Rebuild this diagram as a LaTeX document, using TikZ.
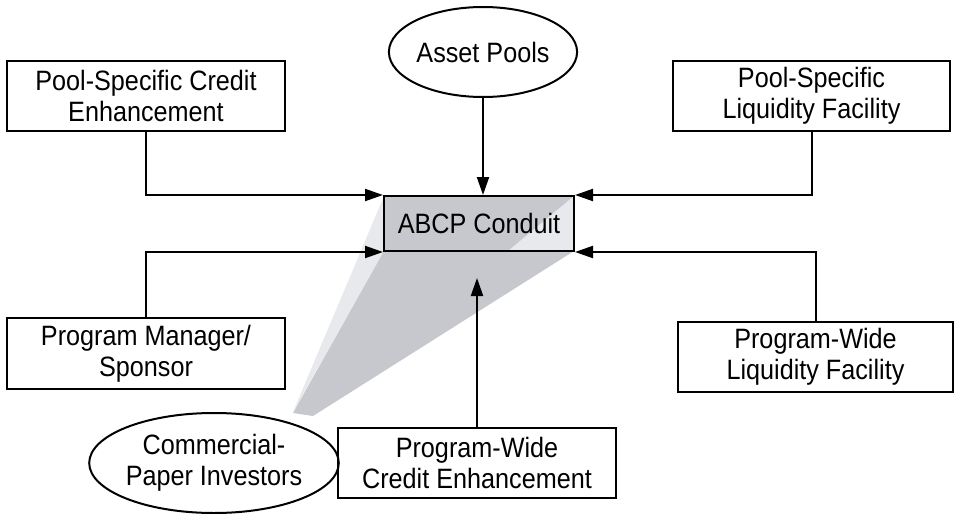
\documentclass[tikz,border=0pt]{standalone}
\usepackage{fontspec}
\setmainfont{Liberation Sans}[FakeStretch=0.9]
\usetikzlibrary{arrows.meta,shapes.geometric}
\definecolor{funneldark}{RGB}{198,200,206}
\definecolor{funnellight}{RGB}{232,233,236}
\begin{document}
\begin{tikzpicture}[x=1pt,y=-1pt,
  every node/.style={font=\fontsize{28}{31}\selectfont, align=center, inner sep=0pt},
  party/.style={draw, line width=2pt, rectangle, minimum height=70pt},
  pool/.style={draw, line width=2pt, ellipse},
  arr/.style={line width=2pt, -{Triangle[length=18pt,width=12pt]}}]
\useasboundingbox (0,0) rectangle (959,514);
\fill[funnellight] (293,412) -- (384,196) -- (384,251) -- cycle;
\fill[funneldark] (293,413) -- (384,251) -- (574,251) -- (313,416) -- cycle;
\fill[funneldark] (384,196) rectangle (574,251);
\fill[funnellight] (508,251) -- (574,196) -- (574,251) -- cycle;
\node[party, minimum width=278pt] (pce) at (146,95.5) {Pool-Specific Credit\\Enhancement};
\node[pool, minimum width=170pt, minimum height=90pt] (apools) at (483,52) {Asset Pools};
\node[party, minimum width=277pt] (plf) at (811.5,96) {Pool-Specific\\Liquidity Facility};
\node[draw, line width=2pt, minimum width=190pt, minimum height=55pt] (abcp) at (479,223.5) {ABCP Conduit};
\node[party, minimum width=278pt, minimum height=71pt] (pms) at (146,353.5) {Program Manager/\\Sponsor};
\node[party, minimum width=275pt] (pwlf) at (815.5,357) {Program-Wide\\Liquidity Facility};
\node[party, minimum width=278pt] (pwce) at (477,463) {Program-Wide\\Credit Enhancement};
\node[pool, minimum width=202pt, minimum height=100pt] (cpi) at (214,463) {Commercial-\\Paper Investors};
\coordinate (tip) at (477,278);
\draw[arr] (pce.south) |- (abcp.north west);
\draw[arr] (plf.south) |- (abcp.north east);
\draw[arr] (apools.south) -- (apools.south |- abcp.north);
\draw[arr] (pms.north) |- (abcp.south west);
\draw[arr] (pwlf.north) |- (abcp.south east);
\draw[arr] (pwce.north) -- (tip);
\end{tikzpicture}
\end{document}
